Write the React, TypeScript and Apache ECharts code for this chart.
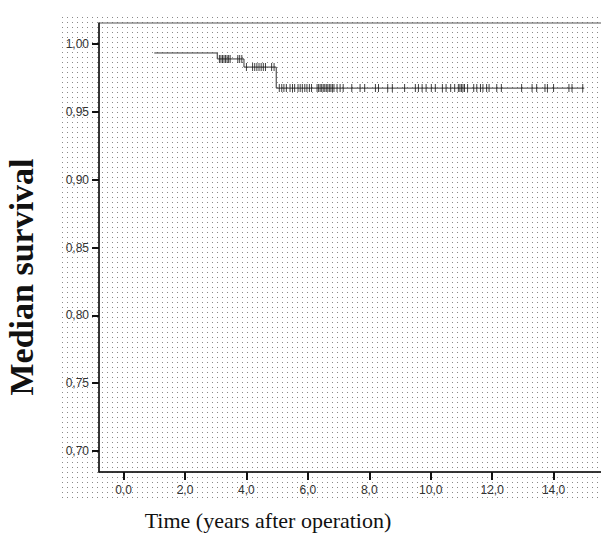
import React, { useEffect, useRef } from "react";
import * as echarts from "echarts";

// Tick values
const xTicks = [0, 2, 4, 6, 8, 10, 12, 14];
const yTicks = [0.7, 0.75, 0.8, 0.85, 0.9, 0.95, 1.0];

// Kaplan-Meier step curve (time, survival)
const stepTimes = [1.0, 3.05, 3.92, 4.97, 15.0];
const stepSurvival = [0.9934, 0.989, 0.983, 0.9675, 0.9675];

// Censored observations per survival level
const censorLevelA = 0.989;
const censorTimesA = [3.12, 3.17, 3.22, 3.27, 3.32, 3.37, 3.42, 3.47, 3.72, 3.78, 3.85];
const censorLevelB = 0.983;
const censorTimesB = [4.0, 4.2, 4.27, 4.34, 4.41, 4.48, 4.55, 4.62, 4.82, 4.9];
const censorLevelC = 0.9675;
const censorTimesC = [
  5.07, 5.15, 5.22, 5.3, 5.42, 5.5, 5.57, 5.68, 5.75, 5.82, 5.9, 5.97, 6.05, 6.12,
  6.3, 6.35, 6.4, 6.45, 6.5, 6.55, 6.6, 6.65, 6.7, 6.75, 6.8, 6.85, 6.95, 7.05, 7.15,
  7.43, 7.7, 7.85, 8.2, 8.3, 8.6, 8.75, 9.15, 9.5, 9.6, 9.72, 9.85, 10.02, 10.15,
  10.38, 10.5, 10.65, 10.78, 10.9, 10.95, 11.0, 11.05, 11.1, 11.2, 11.4, 11.5, 11.62,
  11.7, 11.82, 11.9, 12.15, 12.3, 12.96, 13.3, 13.45, 13.72, 13.8, 14.0, 14.5, 14.6, 14.95,
];

const xTitle = "Time (years after operation)";
const yTitle = "Median survival";

export default function App() {
  const ref = useRef<HTMLDivElement>(null);
  useEffect(() => {
    document.body.style.margin = "0";
    const chart = echarts.init(ref.current!, null, { renderer: "svg" });
    const tile = document.createElement("canvas");
    tile.width = 5;
    tile.height = 5;
    const ctx = tile.getContext("2d")!;
    ctx.fillStyle = "#8a8a8a";
    ctx.fillRect(2, 2, 1, 1);

    const censorData = [
      ...censorTimesA.map((t) => [t, censorLevelA]),
      ...censorTimesB.map((t) => [t, censorLevelB]),
      ...censorTimesC.map((t) => [t, censorLevelC]),
    ];

    chart.setOption({
      animation: false,
      backgroundColor: "#ffffff",
      grid: {
        left: 99,
        top: 23,
        width: 516,
        height: 449,
        show: true,
        borderColor: "#555",
        borderWidth: 1,
        backgroundColor: "transparent",
      },
      xAxis: {
        type: "value",
        min: -0.8,
        max: 16,
        axisLine: { show: true, onZero: false, lineStyle: { color: "#111", width: 1.5 } },
        axisTick: { show: true, customValues: xTicks, length: 8, lineStyle: { color: "#111", width: 2 } },
        axisLabel: {
          customValues: xTicks,
          formatter: (v: number) => v.toFixed(1).replace(".", ","),
          color: "#333",
          fontSize: 12,
          fontFamily: "Liberation Sans",
          margin: 12,
        },
        splitLine: { show: false },
      },
      yAxis: {
        type: "value",
        min: 0.6845,
        max: 1.0155,
        axisLine: { show: true, onZero: false, lineStyle: { color: "#111", width: 1.5 } },
        axisTick: { show: true, customValues: yTicks, length: 7, lineStyle: { color: "#111", width: 2 } },
        axisLabel: {
          customValues: yTicks,
          formatter: (v: number) => v.toFixed(2).replace(".", ","),
          color: "#333",
          fontSize: 12,
          fontFamily: "Liberation Sans",
          margin: 10,
        },
        splitLine: { show: false },
      },
      graphic: [
        {
          type: "rect",
          z: -100,
          silent: true,
          shape: { x: 60, y: 14, width: 560, height: 486 },
          style: { fill: { image: tile, repeat: "repeat", imageWidth: 5, imageHeight: 5 } as any },
        },
        {
          type: "text",
          x: 268,
          y: 520,
          style: {
            text: xTitle,
            fontSize: 22,
            fontFamily: "Liberation Serif",
            fill: "#111",
            align: "center",
            verticalAlign: "middle",
          },
        },
        {
          type: "text",
          x: 21,
          y: 277,
          rotation: Math.PI / 2,
          style: {
            text: yTitle,
            fontSize: 34,
            fontWeight: "bold",
            fontFamily: "Liberation Serif",
            fill: "#111",
            align: "center",
            verticalAlign: "middle",
          },
        },
      ],
      series: [
        {
          type: "line",
          step: "end",
          showSymbol: false,
          data: stepTimes.map((t, i) => [t, stepSurvival[i]]),
          lineStyle: { color: "#333", width: 1 },
          z: 3,
        },
        {
          type: "scatter",
          symbol: "rect",
          symbolSize: [1, 8],
          itemStyle: { color: "#111" },
          data: censorData,
          z: 4,
        },
      ],
    });
    return () => chart.dispose();
  }, []);
  return (
    <div
      style={{ position: "absolute", left: 0, top: 0, width: 601, height: 536, overflow: "hidden" }}
    >
      <div ref={ref} style={{ width: 620, height: 536 }} />
    </div>
  );
}
